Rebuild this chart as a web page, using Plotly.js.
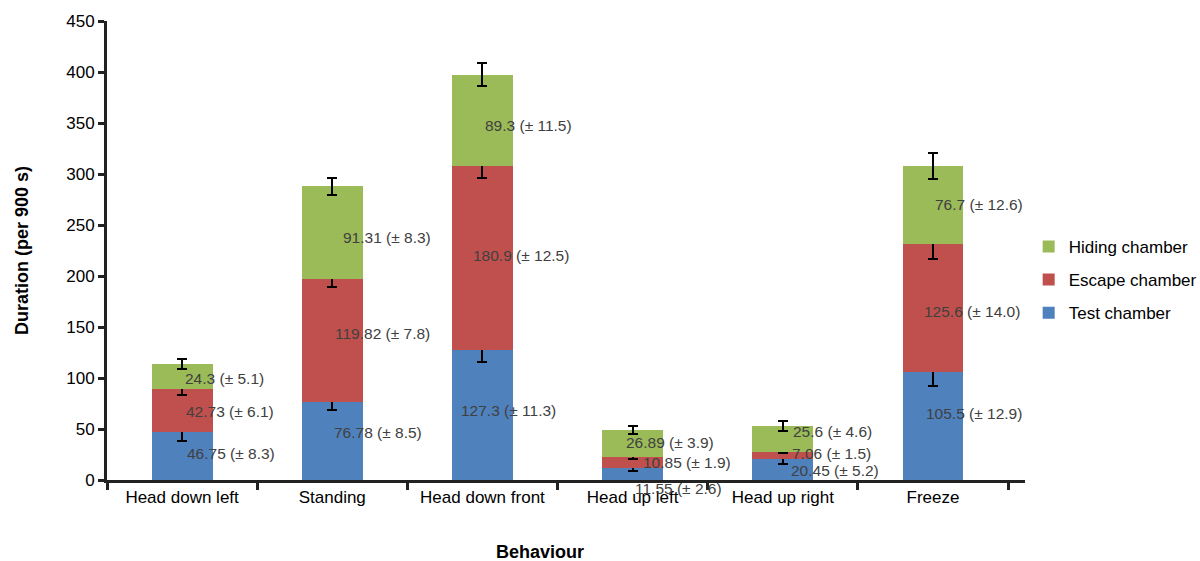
<!DOCTYPE html>
<html>
<head>
<meta charset="utf-8">
<script src="https://cdn.plot.ly/plotly-3.0.1.min.js"></script>
<style>html,body{margin:0;padding:0;background:#fff;}#chart{width:1200px;height:561px;}</style>
</head>
<body>
<div id="chart"></div>
<script>
// ---- data ----
const categories = ["Head down left", "Standing", "Head down front", "Head up left", "Head up right", "Freeze"];
const testChamber = [46.75, 76.78, 127.3, 11.55, 20.45, 105.5];
const testSE = [8.3, 8.5, 11.3, 2.6, 5.2, 12.9];
const escapeChamber = [42.73, 119.82, 180.9, 10.85, 7.06, 125.6];
const escapeSE = [6.1, 7.8, 12.5, 1.9, 1.5, 14.0];
const hidingChamber = [24.3, 91.31, 89.3, 26.89, 25.6, 76.7];
const hidingSE = [5.1, 8.3, 11.5, 3.9, 4.6, 12.6];
const seriesNames = ["Test chamber", "Escape chamber", "Hiding chamber"];

// ---- styling ----
const colors = ["#4f81bd", "#c0504d", "#9bbb59"];
const legendRanks = [3, 2, 1];
// label pixel offsets (x from bar centre, y from segment middle), per series
const labelDx = [[3, 0, -23, 0, 6, -9], [2, 1, -11, 8, 7, -11], [1, 9, 1, -9, 8, 0]];
const labelDy = [[3, 8, 5, -14, -1, 13], [-1, 7, 2, 0, 2, -3], [-2, -5, -5, 1, 7, 1]];

const values = [testChamber, escapeChamber, hidingChamber];
const ses = [testSE, escapeSE, hidingSE];

const traces = values.map((v, s) => ({
  type: "bar",
  name: seriesNames[s],
  legendgroup: "g" + s,
  legendrank: legendRanks[s],
  x: categories,
  y: v,
  marker: {color: colors[s]},
  error_y: {type: "data", array: ses[s], visible: true, color: "#000", thickness: 2, width: 5},
  hoverinfo: "y"
}));

const annotations = [];
categories.forEach((c, i) => {
  let base = 0;
  for (let s = 0; s < 3; s++) {
    const v = values[s][i];
    annotations.push({
      x: c, y: base + v / 2, xref: "x", yref: "y",
      text: v + " (± " + ses[s][i].toFixed(1) + ")",
      showarrow: false, xanchor: "left", yanchor: "middle",
      xshift: labelDx[s][i], yshift: labelDy[s][i],
      font: {family: "Liberation Sans, Arial, sans-serif", size: 15.5, color: "#404040"}
    });
    base += v;
  }
});
annotations.push({
  text: "<b>Behaviour</b>", xref: "paper", yref: "paper", x: 0.4717, y: -0.157,
  showarrow: false, xanchor: "center", yanchor: "middle",
  font: {family: "Liberation Sans, Arial, sans-serif", size: 18, color: "#000"}
});

const layout = {
  width: 1200, height: 561,
  margin: {l: 107, r: 175, t: 21, b: 81, autoexpand: false},
  barmode: "stack",
  bargap: 0.595,
  paper_bgcolor: "#fff", plot_bgcolor: "#fff",
  font: {family: "Liberation Sans, Arial, sans-serif", size: 17, color: "#000"},
  showlegend: true,
  legend: {
    x: 1.004, y: 0.436, xanchor: "left", yanchor: "middle",
    traceorder: "grouped", tracegroupgap: 8,
    font: {size: 17, color: "#000"}
  },
  xaxis: {
    type: "category",
    showline: true, linecolor: "#222", linewidth: 3,
    ticks: "outside", tickson: "boundaries", ticklen: 7, tickwidth: 3, tickcolor: "#222",
    showgrid: false, zeroline: false,
    tickfont: {size: 17, color: "#000"}
  },
  yaxis: {
    range: [0, 450], dtick: 50,
    showline: true, linecolor: "#222", linewidth: 3,
    ticks: "outside", ticklen: 6, tickwidth: 3, tickcolor: "#222",
    showgrid: false, zeroline: false,
    tickfont: {size: 17, color: "#000"},
    title: {text: "<b>Duration (per 900 s)</b>", font: {size: 18, color: "#000"}, standoff: 33}
  },
  annotations: annotations
};

Plotly.newPlot("chart", traces, layout, {displayModeBar: false, staticPlot: true});
</script>
</body>
</html>
